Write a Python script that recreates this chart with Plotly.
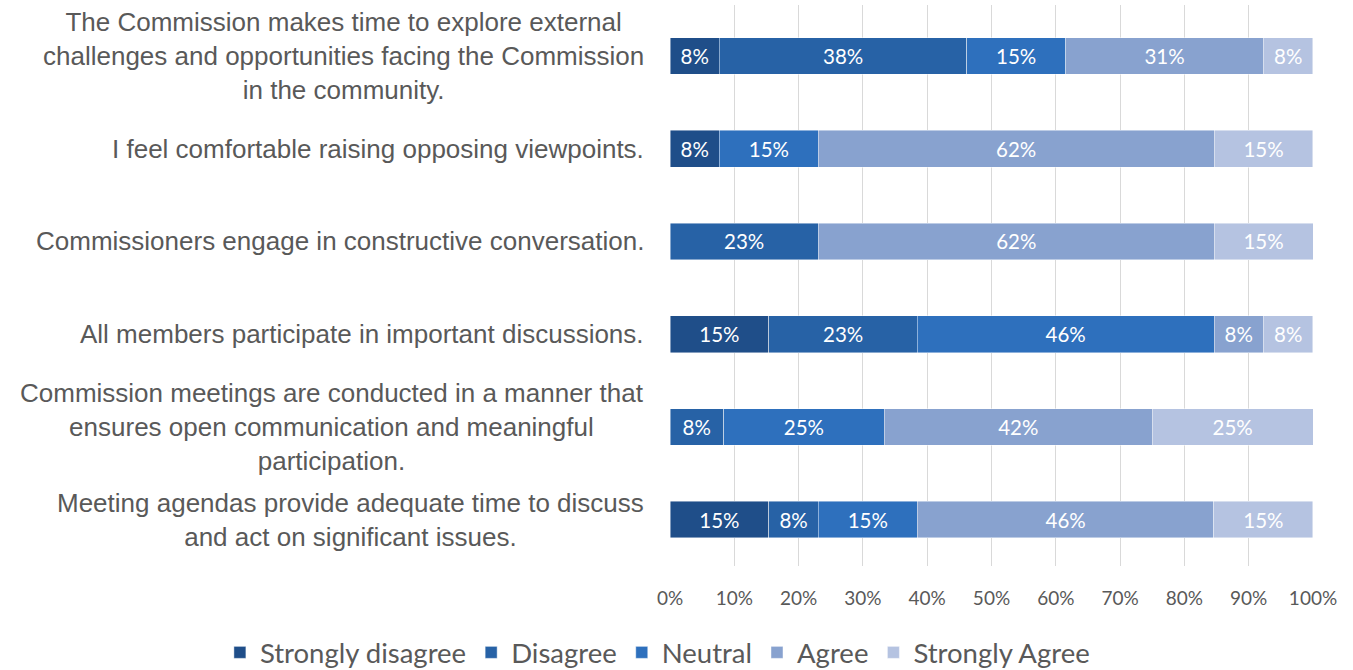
import plotly.graph_objects as go

categories = [
    "The Commission makes time to explore external<br>challenges and opportunities facing the Commission<br>in the community.",
    "I feel comfortable raising opposing viewpoints.",
    "Commissioners engage in constructive conversation.",
    "All members participate in important discussions.",
    "Commission meetings are conducted in a manner that<br>ensures open communication and meaningful<br>participation.",
    "Meeting agendas provide adequate time to discuss<br>and act on significant issues.",
]

series_names = ["Strongly disagree", "Disagree", "Neutral", "Agree", "Strongly Agree"]

strongly_disagree = [7.69, 7.69, None, 15.38, None, 15.38]
disagree = [38.46, None, 23.08, 23.08, 8.33, 7.69]
neutral = [15.38, 15.38, None, 46.15, 25.0, 15.38]
agree = [30.77, 61.54, 61.54, 7.69, 41.67, 46.15]
strongly_agree = [7.69, 15.38, 15.38, 7.69, 25.0, 15.38]

tick_vals = [0, 10, 20, 30, 40, 50, 60, 70, 80, 90, 100]
tick_text = ["0%", "10%", "20%", "30%", "40%", "50%", "60%", "70%", "80%", "90%", "100%"]

colors = ["#1f4e89", "#2762a6", "#2e70bd", "#88a2cf", "#b5c3e1"]

series_values = [strongly_disagree, disagree, neutral, agree, strongly_agree]

fig = go.Figure()
for name, vals, col in zip(series_names, series_values, colors):
    fig.add_trace(go.Bar(
        y=categories, x=vals, name=name, orientation="h",
        marker=dict(color=col, line=dict(color="rgba(255,255,255,0.6)", width=0.75)),
        texttemplate="%{x:.0f}%", textposition="inside", insidetextanchor="middle",
        textangle=0,
        textfont=dict(family="Lato, sans-serif", size=20.5, color="white"),
        cliponaxis=False,
    ))

for c in categories:
    fig.add_annotation(
        x=0, xref="paper", y=c, yref="y", xanchor="right", yanchor="middle",
        xshift=-24, text=c, showarrow=False, align="center",
        font=dict(family="Liberation Sans, Arial, sans-serif", size=26, color="#595959"),
    )

fig.update_layout(
    barmode="stack",
    bargap=0.605,
    width=1353, height=670,
    margin=dict(l=670, r=40, t=5, b=104, autoexpand=False),
    plot_bgcolor="white", paper_bgcolor="white",
    legend=dict(orientation="h", x=-0.70, xref="paper", xanchor="left",
                y=-0.1105, yref="paper", yanchor="top",
                font=dict(family="Lato, sans-serif", size=27.5, color="#595959"),
                itemclick=False, traceorder="normal"),
    showlegend=True,
)
fig.update_xaxes(range=[0, 100], tickvals=tick_vals, ticktext=tick_text,
                 showgrid=True, gridcolor="#d9d9d9", gridwidth=1.3,
                 zeroline=False, showline=False, ticks="", ticklabelstandoff=19,
                 tickfont=dict(family="Lato, sans-serif", size=19, color="#595959"))
fig.update_yaxes(autorange="reversed", showticklabels=False, showgrid=False, ticks="", showline=False)

fig.write_html("out.html")
